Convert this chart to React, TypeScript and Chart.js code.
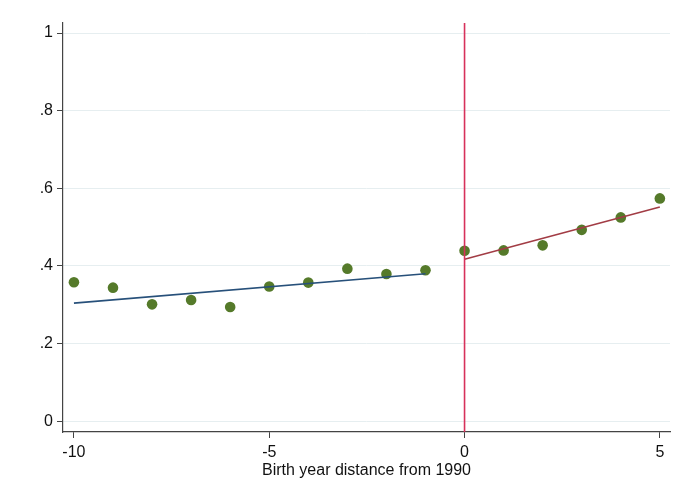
import React, { useEffect, useRef } from "react";
import { Chart, registerables } from "chart.js";

Chart.register(...registerables);

const years = [-10, -9, -8, -7, -6, -5, -4, -3, -2, -1, 0, 1, 2, 3, 4, 5];
const shares = [0.358, 0.344, 0.301, 0.312, 0.294, 0.347, 0.357, 0.393, 0.379, 0.389, 0.439, 0.44, 0.453, 0.493, 0.525, 0.574];
const leftFitX = [-10, -1];
const leftFitY = [0.304, 0.380];
const rightFitX = [0, 5];
const rightFitY = [0.417, 0.552];
const cutoffX = [0, 0];
const cutoffY = [-0.028, 1.026];
const xTicks = [-10, -5, 0, 5];
const yTicks = [0, 0.2, 0.4, 0.6, 0.8, 1];
const yTickLabels = ["0", ".2", ".4", ".6", ".8", "1"];
const xTitle = "Birth year distance from 1990";

export default function App() {
  const ref = useRef<HTMLCanvasElement | null>(null);
  useEffect(() => {
    document.body.style.margin = "0";
    const ctx = ref.current!;
    const font = { family: "'Liberation Sans', Arial, sans-serif", size: 16 };
    const chart = new Chart(ctx, {
      type: "scatter",
      data: {
        datasets: [
          {
            type: "line",
            data: cutoffX.map((x, i) => ({ x, y: cutoffY[i] })),
            borderColor: "#d7315b",
            borderWidth: 1.6,
            pointRadius: 0,
            fill: false,
          },
          {
            type: "line",
            data: leftFitX.map((x, i) => ({ x, y: leftFitY[i] })),
            borderColor: "#27507a",
            borderWidth: 1.6,
            pointRadius: 0,
            fill: false,
          },
          {
            type: "line",
            data: rightFitX.map((x, i) => ({ x, y: rightFitY[i] })),
            borderColor: "#a23c45",
            borderWidth: 1.6,
            pointRadius: 0,
            fill: false,
          },
          {
            data: years.map((x, i) => ({ x, y: shares[i] })),
            backgroundColor: "#557a2a",
            borderColor: "#557a2a",
            pointRadius: 5.3,
            pointBorderWidth: 0,
          },
        ],
      },
      options: {
        animation: false,
        responsive: false,
        maintainAspectRatio: false,
        layout: { padding: { top: 23, right: 6, left: 0, bottom: 0 } },
        plugins: { legend: { display: false }, tooltip: { enabled: false } },
        scales: {
          x: {
            type: "linear",
            min: -10.28,
            max: 5.26,
            afterBuildTicks: (s: any) => {
              s.ticks = xTicks.map((v) => ({ value: v }));
            },
            afterFit: (s: any) => {
              s.height = 63;
            },
            ticks: { color: "#111", font, padding: 5, maxRotation: 0, callback: (v: any) => String(v) },
            grid: { drawOnChartArea: false, drawTicks: true, tickLength: 6, tickColor: "#444", color: "#444" },
            border: { color: "#444", width: 1.2 },
            title: { display: true, text: xTitle, color: "#111", font, padding: { top: 0, bottom: 15 } },
          },
          y: {
            type: "linear",
            min: -0.028,
            max: 1.026,
            afterBuildTicks: (s: any) => {
              s.ticks = yTicks.map((v) => ({ value: v }));
            },
            afterFit: (s: any) => {
              s.width = 63;
            },
            ticks: {
              color: "#111",
              font,
              padding: 4,
              callback: (v: any) => {
                const i = yTicks.findIndex((t) => Math.abs(t - v) < 1e-6);
                return i >= 0 ? yTickLabels[i] : "";
              },
            },
            grid: { color: "#e6eef0", tickLength: 6, tickColor: "#444", lineWidth: 1 },
            border: { color: "#444", width: 1.2 },
          },
        },
      },
    });
    return () => chart.destroy();
  }, []);
  return (
    <div style={{ width: 676, height: 495, background: "#fff" }}>
      <canvas ref={ref} width={676} height={495} />
    </div>
  );
}
